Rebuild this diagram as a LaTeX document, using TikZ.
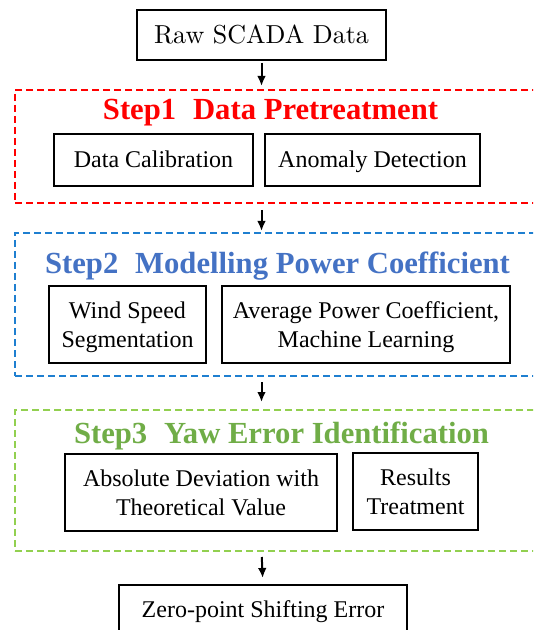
\documentclass[tikz,border=0pt]{standalone}
\usepackage{fontspec}
\newfontfamily\tnr{Liberation Serif}
\newfontfamily\lmten{lmroman10-regular}[Extension=.otf]
\usetikzlibrary{arrows.meta}
\definecolor{sred}{HTML}{FF0000}
\definecolor{sbluetext}{HTML}{4472C4}
\definecolor{sblueline}{HTML}{1F7FD0}
\definecolor{sgreentext}{HTML}{70AD47}
\definecolor{sgreenline}{HTML}{92D050}
\begin{document}
\begin{tikzpicture}[x=0.75pt,y=-0.75pt,
  box/.style={draw, line width=1.5pt, rectangle, inner sep=2pt, outer sep=0pt,
    font=\tnr\fontsize{18pt}{21.75pt}\selectfont},
  onebox/.style={box, text height=11.9pt, text depth=0pt},
  twobox/.style={box, align=center, text depth=0pt},
  stepframe/.style={dash pattern=on 5.25pt off 3pt, line width=1.1pt, rectangle,
    outer sep=0pt, inner sep=0pt, anchor=north west},
  steptitle/.style={font=\tnr\bfseries\fontsize{23pt}{27pt}\selectfont,
    anchor=base, inner sep=0pt},
  flow/.style={-{Latex[length=7.5pt,width=6.5pt]}, line width=1.5pt}
]
\useasboundingbox (0,0) rectangle (533,630);
\clip (0,0) rectangle (533,630);

% step frames
\node[stepframe, draw=sred, minimum width=397.5pt, minimum height=84.75pt] (f1) at (15,90) {};
\node[stepframe, draw=sblueline, minimum width=397.5pt, minimum height=107.25pt] (f2) at (15,233) {};
\node[stepframe, draw=sgreenline, minimum width=397.5pt, minimum height=105.75pt] (f3) at (15,410) {};

% titles
\node[steptitle, text=sred] (t1) at (270.5,120) {Step1\hspace{0.55em}Data Pretreatment};
\node[steptitle, text=sbluetext] (t2) at (277.5,273) {Step2\hspace{0.55em}Modelling Power Coefficient};
\node[steptitle, text=sgreentext] (t3) at (281.5,443) {Step3\hspace{0.55em}Yaw Error Identification};

% boxes
\node[draw, line width=1.5pt, rectangle, inner sep=2pt, outer sep=0pt,
  font=\lmten\fontsize{19.5pt}{23pt}\selectfont, text height=13.3pt, text depth=0pt,
  minimum width=186.75pt, minimum height=37.5pt] (raw) at (261.5,35) {Raw SCADA Data};

\node[onebox, minimum width=149.25pt, minimum height=39pt] (dc) at (153.5,160) {Data Calibration};
\node[onebox, minimum width=161.25pt, minimum height=39pt] (ad) at (372.5,160) {Anomaly Detection};

\node[twobox, minimum width=117.75pt, minimum height=57.75pt] (ws) at (127.5,324.5) {Wind Speed\\Segmentation};
\node[twobox, minimum width=216pt, minimum height=57.75pt] (avg) at (366,324.5) {Average Power Coefficient,\\Machine Learning};

\node[twobox, minimum width=204pt, minimum height=57.75pt] (abs) at (201,492.5) {Absolute Deviation with\\Theoretical Value};
\node[twobox, minimum width=93.75pt, minimum height=57.75pt] (res) at (415.5,491.5) {Results\\Treatment};

\node[onebox, minimum width=216pt, minimum height=37.5pt] (zero) at (263,610) {Zero-point Shifting Error};

% connectors
\draw[flow, shorten <=2.25pt, shorten >=3pt] (raw.south) -- (raw.south |- f1.north);
\draw[flow, shorten <=5.25pt, shorten >=1.5pt] (raw.south |- f1.south) -- (raw.south |- f2.north);
\draw[flow, shorten <=4.5pt, shorten >=6pt] (raw.south |- f2.south) -- (raw.south |- f3.north);
\draw[flow, shorten <=4.5pt, shorten >=5.25pt] (raw.south |- f3.south) -- (zero.north);
\end{tikzpicture}
\end{document}
